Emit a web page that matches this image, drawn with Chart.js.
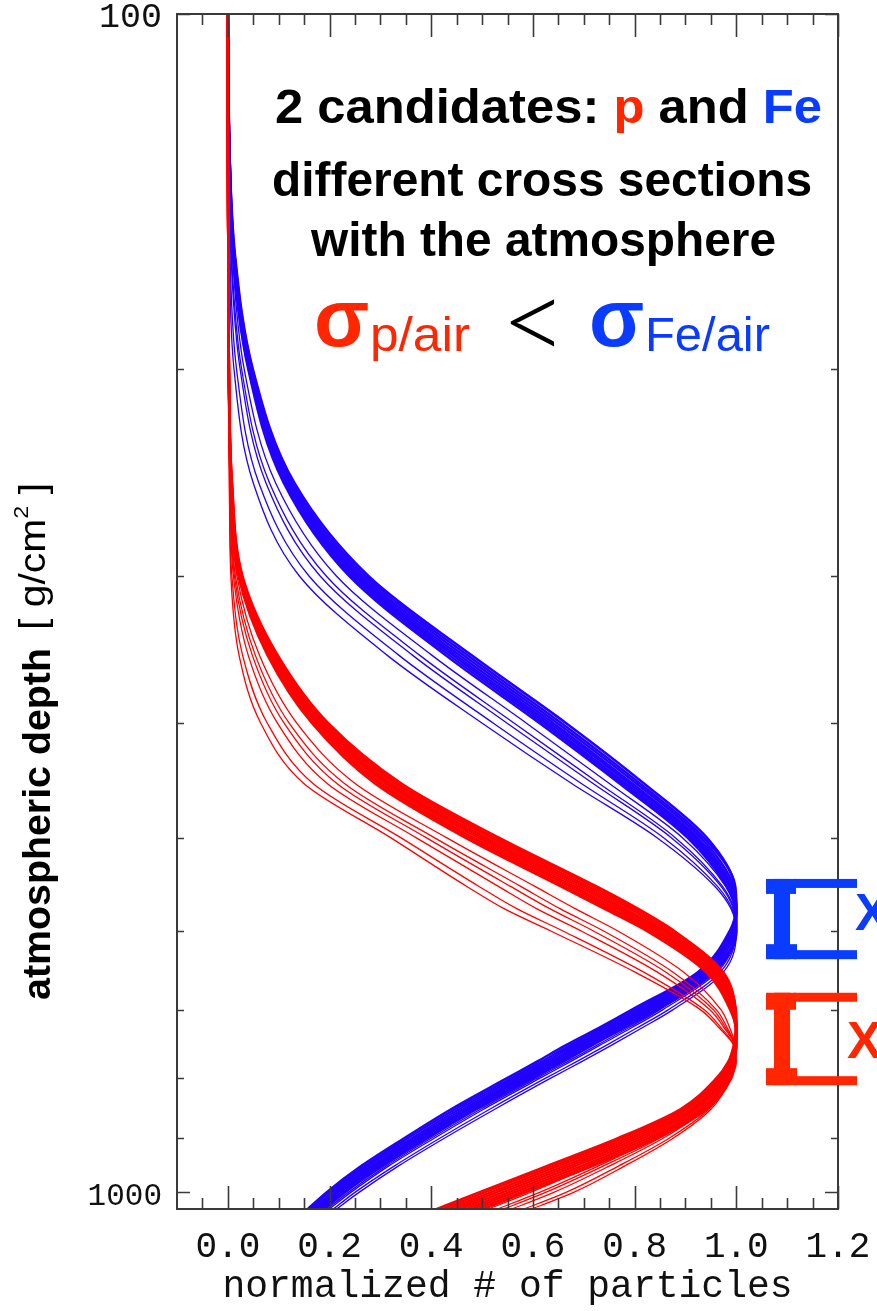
<!DOCTYPE html>
<html><head><meta charset="utf-8">
<script src="https://cdn.jsdelivr.net/npm/chart.js@4.4.0/dist/chart.umd.min.js"></script>
<style>html,body{margin:0;padding:0;background:#fff;}canvas{display:block;}</style>
</head><body>
<canvas id="c" width="877" height="1311"></canvas>
<script>
// ---------- data ----------
// atmospheric depth grid [g/cm^2] at which every profile is sampled
const depthGrid = [100,130,160,200,250,300,350,400,450,500,550,575,600,650,700,725,750,775,800,850,900,950,1000,1040];

// proton (red) profiles: dense band
const pBand1 = [0,0,.001,.002,.008,.029,.098,.198,.342,.533,.725,.808,.878,.974,.998,.999,.995,.984,.961,.890,.766,.627,.494,.394];
const pBand2 = [0,0,.001,.002,.008,.028,.095,.194,.335,.525,.717,.800,.871,.970,.999,1.0,.996,.985,.964,.897,.775,.638,.505,.406];
const pBand3 = [0,0,.001,.002,.008,.027,.093,.190,.329,.517,.708,.792,.864,.965,.999,1.0,.997,.987,.968,.903,.785,.649,.517,.417];
const pBand4 = [0,0,.001,.002,.007,.026,.090,.186,.322,.508,.699,.783,.858,.961,.997,1.0,.998,.988,.971,.910,.795,.661,.528,.429];
const pBand5 = [0,0,.001,.002,.007,.025,.088,.182,.316,.500,.690,.775,.851,.957,.995,1.0,.998,.990,.975,.916,.805,.672,.540,.440];
const pBand6 = [0,0,.001,.002,.007,.024,.086,.178,.310,.492,.681,.767,.844,.953,.993,1.0,.999,.992,.979,.922,.815,.683,.552,.452];
const pBand7 = [0,0,.001,.002,.007,.023,.083,.174,.303,.483,.672,.758,.838,.949,.991,1.0,1.0,.993,.982,.929,.825,.695,.563,.463];
const pBand8 = [0,0,.001,.002,.006,.022,.081,.170,.297,.475,.663,.750,.831,.944,.990,.999,1.0,.995,.986,.935,.835,.706,.575,.474];
const pBand9 = [0,0,.001,.002,.006,.021,.078,.166,.290,.467,.655,.742,.824,.940,.988,.999,1.0,.996,.990,.942,.844,.717,.585,.486];
// proton (red) profiles: late outliers
const pLate1 = [0,0,.001,.002,.005,.018,.062,.136,.251,.430,.604,.685,.767,.896,.970,.987,.997,.994,.981,.929,.832,.714,.595,.495];
const pLate2 = [0,0,0,.001,.005,.015,.054,.121,.230,.406,.576,.655,.739,.875,.961,.982,.996,.995,.983,.934,.841,.728,.613,.513];
const pLate3 = [0,0,0,.001,.005,.013,.048,.111,.215,.390,.556,.635,.719,.861,.955,.979,.996,.996,.984,.937,.848,.738,.625,.525];
const pLate4 = [0,0,0,.001,.004,.011,.040,.098,.196,.370,.532,.609,.695,.844,.948,.976,.996,.997,.986,.940,.855,.750,.641,.541];
const pLate5 = [0,0,0,.001,.003,.008,.029,.078,.168,.340,.494,.570,.659,.817,.937,.970,.995,.999,.988,.946,.867,.768,.665,.565];
const pLate6 = [0,0,0,.001,.003,.006,.022,.065,.150,.320,.470,.545,.635,.800,.930,.966,.995,1.0,.990,.950,.875,.780,.680,.580];

// iron (blue) profiles: dense band
const feBand1 = [0,.003,.014,.049,.131,.277,.479,.666,.819,.942,.997,.999,.987,.925,.794,.730,.665,.607,.549,.439,.346,.262,.194,.150];
const feBand2 = [0,.003,.013,.048,.127,.271,.471,.657,.811,.936,.998,1.0,.990,.930,.802,.738,.674,.616,.558,.447,.353,.269,.199,.155];
const feBand3 = [0,.003,.013,.046,.124,.265,.463,.649,.804,.930,.995,1.0,.993,.935,.810,.746,.682,.624,.566,.455,.361,.275,.205,.160];
const feBand4 = [0,.003,.012,.045,.121,.259,.455,.641,.796,.924,.992,1.0,.995,.940,.818,.754,.690,.632,.574,.463,.368,.282,.211,.165];
const feBand5 = [0,.003,.012,.044,.118,.254,.448,.634,.790,.919,.989,1.0,.997,.944,.825,.761,.697,.639,.581,.470,.374,.288,.216,.169];
const feBand6 = [0,.003,.011,.043,.116,.249,.442,.627,.783,.914,.987,.999,.999,.949,.831,.767,.704,.646,.588,.476,.380,.293,.221,.174];
const feBand7 = [0,.003,.011,.041,.113,.244,.435,.621,.777,.909,.984,.999,1.0,.953,.838,.774,.711,.653,.594,.483,.386,.299,.226,.178];
const feBand8 = [0,.002,.010,.040,.110,.239,.428,.614,.771,.904,.981,.998,1.0,.957,.844,.780,.717,.659,.601,.489,.392,.304,.230,.182];
// iron (blue) profiles: late outliers
const feLate1 = [0,.002,.009,.032,.094,.214,.401,.588,.751,.894,.979,.996,.997,.953,.840,.777,.715,.656,.597,.487,.390,.302,.229,.180];
const feLate2 = [0,.002,.007,.027,.082,.194,.377,.564,.731,.880,.973,.995,.998,.959,.849,.788,.726,.667,.608,.497,.399,.311,.237,.187];
const feLate3 = [0,.002,.006,.024,.075,.182,.363,.550,.719,.872,.970,.994,.998,.963,.855,.794,.732,.673,.614,.503,.405,.316,.242,.191];
const feLate4 = [0,.001,.004,.017,.061,.160,.336,.523,.696,.857,.963,.992,.999,.969,.866,.805,.745,.685,.625,.515,.416,.327,.250,.199];
const feLate5 = [0,.001,.003,.012,.050,.141,.313,.501,.677,.844,.958,.990,1.0,.975,.875,.815,.755,.695,.635,.525,.425,.335,.258,.205];

// axes
const xTickValues = [0.0,0.2,0.4,0.6,0.8,1.0,1.2];
const yTickValues = [100,200,300,400,500,600,700,800,900,1000];
const yLabelValues = [100,1000];
// Xmax bracket extents (depth)
const feBracket = [542,634];
const pBracket = [677,811];

// ---------- chart ----------
const RED = '#ff0000', BLUE = '#2200ff';
const TXT_RED = '#ff2600', TXT_BLUE = '#0a3cff';

function mk(arr, color, width){
  return {data: depthGrid.map((d,i)=>({x:arr[i], y:d})), borderColor: color, borderWidth: width,
          pointRadius: 0, cubicInterpolationMode: 'monotone', fill: false};
}
const pBandAll = [pBand1,pBand2,pBand3,pBand4,pBand5,pBand6,pBand7,pBand8,pBand9];
const pLateAll = [pLate1,pLate2,pLate3,pLate4,pLate5,pLate6];
const feBandAll = [feBand1,feBand2,feBand3,feBand4,feBand5,feBand6,feBand7,feBand8];
const feLateAll = [feLate1,feLate2,feLate3,feLate4,feLate5];
const datasets = [
  ...pBandAll.map(a=>mk(a,RED,2.5)),
  ...pLateAll.map(a=>mk(a,RED,1.3)),
  ...feBandAll.map(a=>mk(a,BLUE,2.5)),
  ...feLateAll.map(a=>mk(a,BLUE,1.3)),
];

function fitText(ctx, pieces, font, x, baseline, width){
  ctx.font = font;
  const full = pieces.map(p=>p[0]).join('');
  const w = ctx.measureText(full).width;
  const s = width / w;
  ctx.save(); ctx.translate(x, baseline); ctx.scale(s,1);
  ctx.textAlign='left'; ctx.textBaseline='alphabetic';
  let cx = 0;
  for (const [t,c] of pieces){ ctx.fillStyle=c; ctx.fillText(t,cx,0); cx += ctx.measureText(t).width; }
  ctx.restore();
}
function inkFit(ctx, text, font, color, l, t, r, b){
  ctx.font = font; ctx.textAlign='left'; ctx.textBaseline='alphabetic';
  const m = ctx.measureText(text);
  const iw = m.actualBoundingBoxLeft + m.actualBoundingBoxRight;
  const ih = m.actualBoundingBoxAscent + m.actualBoundingBoxDescent;
  ctx.save(); ctx.translate(l,t); ctx.scale((r-l)/iw,(b-t)/ih);
  ctx.fillStyle=color; ctx.fillText(text, m.actualBoundingBoxLeft, m.actualBoundingBoxAscent);
  ctx.restore();
}
function bracket(ctx, color, x0, top, bot, thick, thin){
  ctx.fillStyle = color;
  ctx.fillRect(x0, top, 30, thick);            // top serif
  ctx.fillRect(x0+28, top, 63, thin);          // top bar
  ctx.fillRect(x0+8, top, 16, bot-top);        // stem
  ctx.fillRect(x0, bot-thick, 31, thick);      // bottom serif
  ctx.fillRect(x0+28, bot-thin, 63, thin);     // bottom bar
}

const overlay = {
  id:'overlay',
  afterDatasetsDraw(chart){
    const {ctx, chartArea:a, scales:{x,y}} = chart;
    ctx.save();
    ctx.strokeStyle='#3a3a3a'; ctx.lineWidth=2;
    ctx.strokeRect(a.left, a.top, a.right-a.left, a.bottom-a.top);
    ctx.lineWidth=1.6; ctx.beginPath();
    for (let i=-1;i<=24;i++){
      const v=i*0.05, px=Math.round(x.getPixelForValue(v))+0.5;
      const L = (i>=0 && i%4===0) ? 23 : 11;
      ctx.moveTo(px,a.bottom); ctx.lineTo(px,a.bottom-L);
      ctx.moveTo(px,a.top); ctx.lineTo(px,a.top+L);
    }
    for (const v of yTickValues){
      const py=Math.round(y.getPixelForValue(v))+0.5;
      const L = yLabelValues.includes(v) ? 13 : 7;
      ctx.moveTo(a.left,py); ctx.lineTo(a.left+L,py);
      ctx.moveTo(a.right,py); ctx.lineTo(a.right-L,py);
    }
    ctx.stroke(); ctx.restore();
  },
  afterDraw(chart){
    const {ctx, scales:{y}} = chart;
    ctx.save();
    // text block
    fitText(ctx, [['2 candidates: ','#000'],['p',TXT_RED],[' and ','#000'],['Fe',TXT_BLUE]], 'bold 48px "Liberation Sans"', 275, 123, 547);
    fitText(ctx, [['different cross sections','#000']], 'bold 48px "Liberation Sans"', 272, 196, 540);
    fitText(ctx, [['with the atmosphere','#000']], 'bold 48px "Liberation Sans"', 311, 256, 465);
    inkFit(ctx, 'σ', 'bold 84px "Liberation Sans"', TXT_RED, 317, 303, 368, 347);
    fitText(ctx, [['p/air',TXT_RED]], '49px "Liberation Sans"', 370, 351, 100);
    inkFit(ctx, '<', '300 100px Lato', '#000', 510, 298, 555, 347);
    inkFit(ctx, 'σ', 'bold 84px "Liberation Sans"', TXT_BLUE, 592, 303, 643, 347);
    fitText(ctx, [['Fe/air',TXT_BLUE]], '49px "Liberation Sans"', 645, 351, 125);

    // Xmax brackets
    const bt = y.getPixelForValue(feBracket[0]), bb = y.getPixelForValue(feBracket[1]);
    bracket(ctx, TXT_BLUE, 766, bt, bb, 15, 9);
    const rt = y.getPixelForValue(pBracket[0]), rb = y.getPixelForValue(pBracket[1]);
    bracket(ctx, TXT_RED, 766, rt, rb, 17, 9);
    ctx.font='bold 52px "Liberation Sans"'; ctx.textAlign='left'; ctx.textBaseline='alphabetic';
    ctx.fillStyle=TXT_BLUE; ctx.fillText('X', 855, (bt+bb)/2+11);
    ctx.fillStyle=TXT_RED; ctx.fillText('X', 847, (rt+rb)/2+19);

    // y-axis title
    ctx.translate(50, 1000); ctx.rotate(-Math.PI/2);
    fitText(ctx, [['atmospheric depth','#000']], 'bold 38px "Liberation Sans"', 0, 0, 352);
    ctx.font='37px "Liberation Sans"';
    const w1 = ctx.measureText('[ g/cm').width;
    ctx.font='21px "Liberation Sans"'; const w2 = ctx.measureText('2').width;
    ctx.font='37px "Liberation Sans"'; const w3 = ctx.measureText(' ]').width;
    const s = 147/(w1+w2+w3);
    ctx.translate(370, -5); ctx.scale(s,1); ctx.fillStyle='#000';
    ctx.fillText('[ g/cm',0,0);
    ctx.font='21px "Liberation Sans"'; ctx.fillText('2', w1, -17);
    ctx.font='37px "Liberation Sans"'; ctx.fillText(' ]', w1+w2, 0);
    ctx.restore();
  }
};

new Chart(document.getElementById('c'), {
  type:'line',
  data:{datasets},
  plugins:[overlay],
  options:{
    responsive:false, animation:false, devicePixelRatio:1, indexAxis:'y',
    layout:{padding:{top:14,right:39,left:0,bottom:0}},
    plugins:{legend:{display:false}, tooltip:{enabled:false}},
    scales:{
      x:{type:'linear', position:'bottom', min:-0.1, max:1.2,
         afterBuildTicks:s=>{ s.ticks = xTickValues.map(v=>({value:v})); },
         afterFit:s=>{ s.height = 102; s.paddingLeft = 0; s.paddingRight = 0; },
         grid:{display:false, drawTicks:false}, border:{display:false},
         ticks:{padding:17, autoSkip:false, maxRotation:0, color:'#111',
                font:{family:'Liberation Mono', size:36}, callback:v=>Number(v).toFixed(1)},
         title:{display:true, text:'normalized # of particles', color:'#111',
                font:{family:'Liberation Mono', size:38}, padding:1}
      },
      y:{type:'logarithmic', position:'left', reverse:true, min:100, max:1033,
         afterBuildTicks:s=>{ s.ticks = yTickValues.map(v=>({value:v})); },
         afterFit:s=>{ s.width = 177; s.paddingTop = 0; s.paddingBottom = 0; },
         grid:{display:false, drawTicks:false}, border:{display:false},
         ticks:{padding:15, autoSkip:false, labelOffset:4, color:'#111',
                font:c=>({family:'Liberation Mono', size:(c.tick && c.tick.value===100)?35:31}),
                callback:v=>yLabelValues.includes(v)?String(v):''}
      }
    }
  }
});
</script>
</body></html>
